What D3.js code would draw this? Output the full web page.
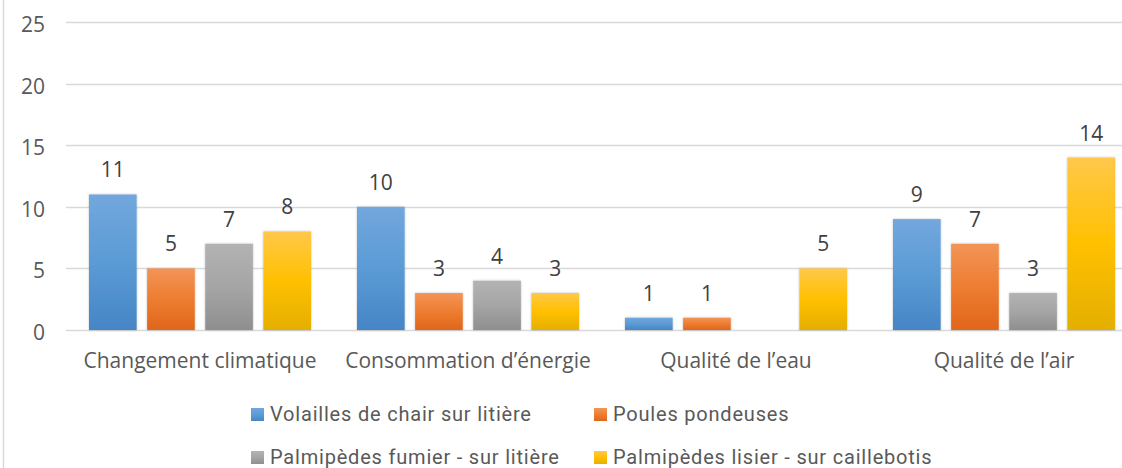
<!DOCTYPE html>
<html>
<head>
<meta charset="utf-8">
<script src="https://cdn.jsdelivr.net/npm/d3@7"></script>
<style>
  body { margin: 0; background: #fff; }
  svg { display: block; }
</style>
</head>
<body>
<svg id="chart" width="1122" height="468"></svg>
<script>
var categories = ["Changement climatique", "Consommation d\u2019\u00e9nergie", "Qualit\u00e9 de l\u2019eau", "Qualit\u00e9 de l\u2019air"];
var seriesNames = ["Volailles de chair sur liti\u00e8re", "Poules pondeuses", "Palmip\u00e8des fumier - sur liti\u00e8re", "Palmip\u00e8des lisier - sur caillebotis"];
var volailles = [11, 10, 1, 9];
var poules = [5, 3, 1, 7];
var palmFumier = [7, 4, 0, 3];
var palmLisier = [8, 3, 5, 14];
var yTicks = [0, 5, 10, 15, 20, 25];

var colors = [
  {top: "#72a7dd", mid: "#5b9bd5", bot: "#4685c6"},
  {top: "#f39457", mid: "#ed7d31", bot: "#e0661b"},
  {top: "#b3b3b3", mid: "#a5a5a5", bot: "#8f8f8f"},
  {top: "#ffc84a", mid: "#ffc000", bot: "#e4af00"}
];

var values = [volailles, poules, palmFumier, palmLisier];
var svg = d3.select("#chart");
var width = 1122, height = 468;
var mainFont = "'Open Sans', 'Noto Sans', sans-serif";

var x0 = d3.scaleBand()
  .domain(categories)
  .range([66, 1138])
  .paddingInner(0)
  .paddingOuter(0);

var x1 = d3.scaleBand()
  .domain(d3.range(seriesNames.length))
  .range([23, x0.bandwidth() - 23])
  .paddingInner(0.18)
  .paddingOuter(0);

var y = d3.scaleLinear()
  .domain([0, 25])
  .range([330, 22]);

var defs = svg.append("defs");
colors.forEach(function(c, i) {
  var g = defs.append("linearGradient")
    .attr("id", "grad" + i)
    .attr("x1", 0).attr("y1", 0).attr("x2", 0).attr("y2", 1);
  g.append("stop").attr("offset", "0%").attr("stop-color", c.top);
  g.append("stop").attr("offset", "50%").attr("stop-color", c.mid);
  g.append("stop").attr("offset", "100%").attr("stop-color", c.bot);
});
var filt = defs.append("filter").attr("id", "shadow")
  .attr("x", "-20%").attr("y", "-20%").attr("width", "140%").attr("height", "140%");
filt.append("feDropShadow")
  .attr("dx", 0).attr("dy", 0).attr("stdDeviation", 1.2)
  .attr("flood-color", "#000").attr("flood-opacity", 0.25);

// outer frame (left edge visible)
svg.append("line")
  .attr("x1", 3.5).attr("x2", 3.5)
  .attr("y1", 0).attr("y2", height)
  .attr("stroke", "#d9d9d9").attr("stroke-width", 1.5);

// gridlines
svg.append("g")
  .selectAll("line")
  .data(yTicks)
  .enter().append("line")
  .attr("x1", 66).attr("x2", 1122)
  .attr("y1", function(d) { return Math.round(y(d)) + 0.5; })
  .attr("y2", function(d) { return Math.round(y(d)) + 0.5; })
  .attr("stroke", "#d9d9d9")
  .attr("stroke-width", 1.6);

// y axis labels
var yAxis = d3.axisLeft(y).tickValues(yTicks).tickSize(0).tickPadding(0);
svg.append("g")
  .attr("transform", "translate(45,0)")
  .call(yAxis)
  .call(function(g) { g.select(".domain").remove(); })
  .call(function(g) {
    g.selectAll(".tick text")
      .attr("font-family", mainFont)
      .attr("font-size", "21px")
      .attr("fill", "#595959")
      .attr("dy", "9.5px");
  });

// bars
var groups = svg.append("g")
  .selectAll("g")
  .data(categories)
  .enter().append("g")
  .attr("transform", function(d) { return "translate(" + x0(d) + ",0)"; });

groups.selectAll("rect")
  .data(function(d, ci) {
    return values.map(function(v, si) { return {s: si, v: v[ci]}; });
  })
  .enter().append("rect")
  .filter(function(d) { return d.v > 0; })
  .attr("x", function(d) { return x1(d.s); })
  .attr("y", function(d) { return y(d.v); })
  .attr("width", x1.bandwidth())
  .attr("height", function(d) { return y(0) - y(d.v); })
  .attr("fill", function(d) { return "url(#grad" + d.s + ")"; })
  .attr("filter", "url(#shadow)");

groups.selectAll("text.val")
  .data(function(d, ci) {
    return values.map(function(v, si) { return {s: si, v: v[ci]}; }).filter(function(d) { return d.v > 0; });
  })
  .enter().append("text")
  .attr("class", "val")
  .attr("x", function(d) { return x1(d.s) + x1.bandwidth() / 2; })
  .attr("y", function(d) { return y(d.v) - 17; })
  .attr("text-anchor", "middle")
  .attr("font-family", mainFont)
  .attr("font-size", "21px")
  .attr("fill", "#404040")
  .text(function(d) { return d.v; });

// category labels
svg.append("g")
  .selectAll("text")
  .data(categories)
  .enter().append("text")
  .attr("x", function(d) { return x0(d) + x0.bandwidth() / 2; })
  .attr("y", 368)
  .attr("text-anchor", "middle")
  .attr("font-family", mainFont)
  .attr("font-size", "21px")
  .attr("fill", "#595959")
  .text(function(d) { return d; });

// legend (2 x 2)
var legendPos = [
  {x: 251, y: 421}, {x: 594, y: 421},
  {x: 251, y: 464}, {x: 594, y: 464}
];
var legend = svg.append("g")
  .selectAll("g")
  .data(seriesNames)
  .enter().append("g")
  .attr("transform", function(d, i) { return "translate(" + legendPos[i].x + "," + legendPos[i].y + ")"; });

legend.append("rect")
  .attr("x", 0).attr("y", -13)
  .attr("width", 13).attr("height", 13)
  .attr("fill", function(d, i) { return "url(#grad" + i + ")"; });

legend.append("text")
  .attr("x", 19)
  .attr("y", 0)
  .attr("font-family", "Roboto, sans-serif")
  .attr("font-size", "20px")
  .style("letter-spacing", "0.8px")
  .attr("fill", "#595959")
  .text(function(d) { return d; });
</script>
</body>
</html>
